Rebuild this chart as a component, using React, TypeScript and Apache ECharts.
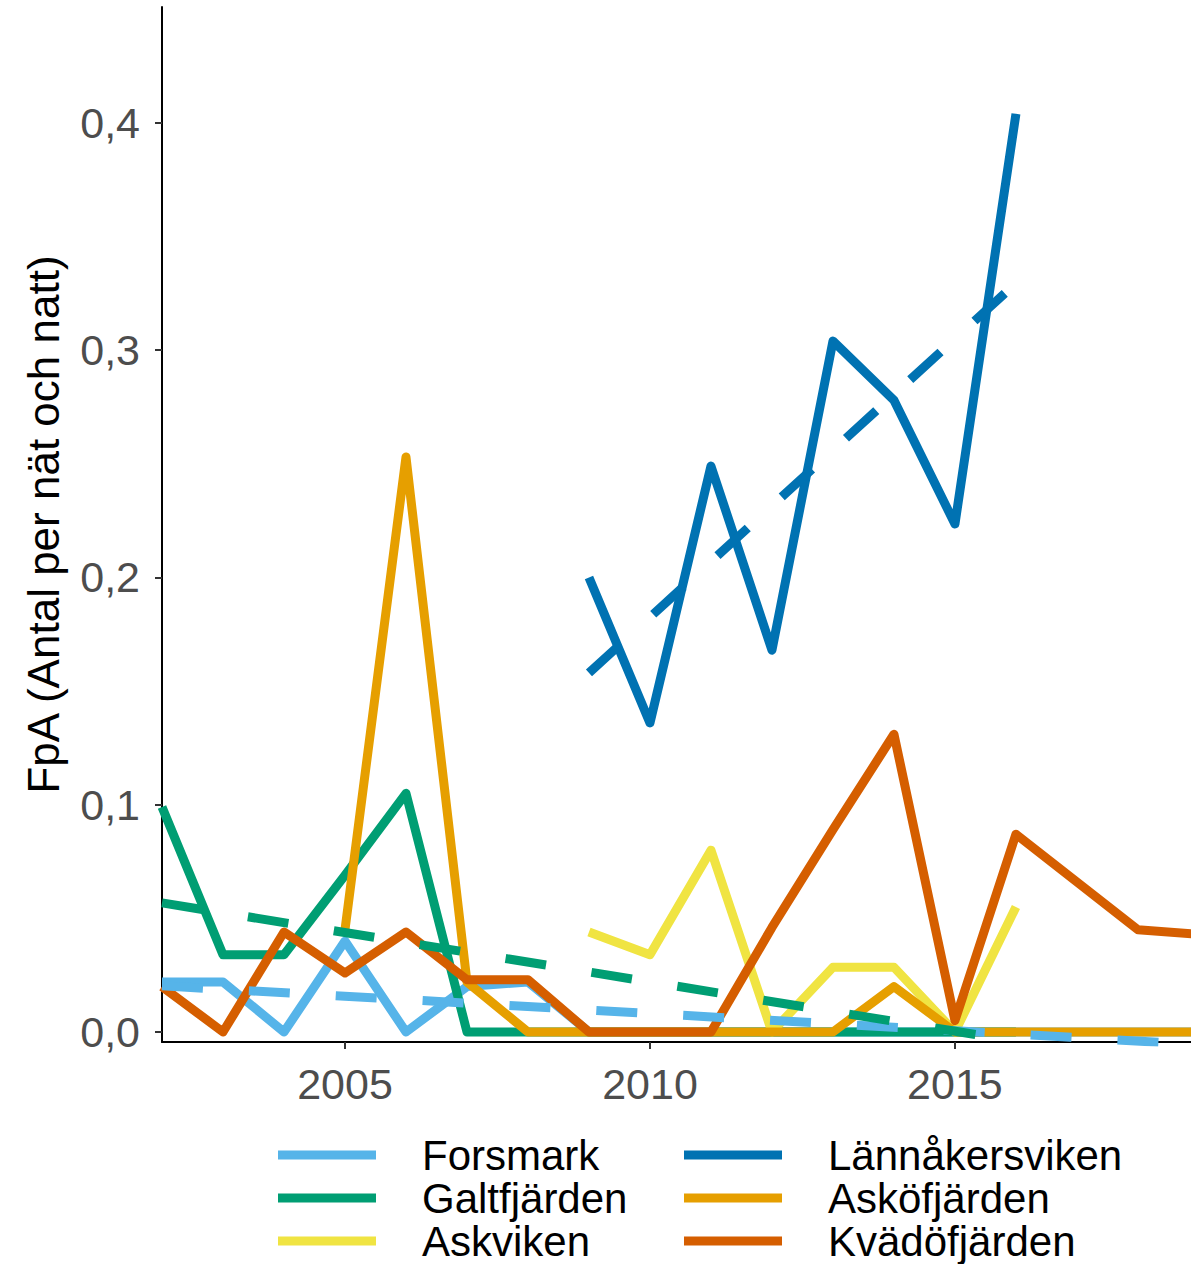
import React, { useEffect, useRef } from "react";
import * as echarts from "echarts";

const years = [2002, 2003, 2004, 2005, 2006, 2007, 2008, 2009, 2010, 2011, 2012, 2013, 2014, 2015, 2016, 2017, 2018, 2019];

const forsmark = [0.022, 0.022, 0, 0.040, 0, 0.020, 0.022, 0, 0, 0, 0, 0, 0, 0, 0, 0, 0, 0];
const galtfjarden = [0.099, 0.034, 0.034, 0.069, 0.105, 0, 0, 0, 0, 0, 0, 0, 0, 0, 0, null, null, null];
const askviken = [null, null, null, null, null, null, null, 0.044, 0.034, 0.080, 0, 0.0285, 0.0285, 0, 0.055, null, null, null];
const lannakersviken = [null, null, null, null, null, null, null, 0.200, 0.136, 0.249, 0.168, 0.304, 0.278, 0.2235, 0.404, null, null, null];
const askofjarden = [null, null, null, 0.045, 0.253, 0.022, 0, 0, 0, 0, 0, 0, 0.020, 0, 0, 0, 0, 0];
const kvadofjarden = [0.020, 0, 0.044, 0.026, 0.044, 0.023, 0.023, 0, 0, 0, 0.046, 0.089, 0.131, 0.005, 0.087, 0.066, 0.045, 0.043];

const forsmarkTrendYears = [2002, 2019];
const forsmarkTrendValues = [0.0203, -0.0055];
const galtTrendYears = [2002, 2016];
const galtTrendValues = [0.0568, -0.004];
const lannTrendYears = [2009, 2016];
const lannTrendValues = [0.158, 0.3295];

const xTicks = [2005, 2010, 2015];
const yTicks = [0, 0.1, 0.2, 0.3, 0.4];

const names = ["Forsmark", "Galtfjärden", "Askviken", "Lännåkersviken", "Asköfjärden", "Kvädöfjärden"];
const colors = ["#56B4E9", "#009E73", "#F0E442", "#0072B2", "#E69F00", "#D55E00"];

const FONT = "'Liberation Sans', Arial, sans-serif";
const LW = 9;

function pairs(xs: number[], vs: (number | null)[]) {
  return xs.map((x, i) => [x, vs[i]]);
}

export default function App() {
  const ref = useRef<HTMLDivElement>(null);
  useEffect(() => {
    if (!ref.current) return;
    const chart = echarts.init(ref.current, undefined, { renderer: "svg" });
    const solidData = [forsmark, galtfjarden, askviken, lannakersviken, askofjarden, kvadofjarden];
    const solidSeries = solidData.map((vals, i) => ({
      name: names[i],
      type: "line",
      data: pairs(years, vals),
      showSymbol: false,
      symbol: "none",
      connectNulls: false,
      clip: true,
      lineStyle: { color: colors[i], width: LW, cap: "butt", join: "round" },
      itemStyle: { color: colors[i] },
      z: 2 + i * 0.01,
    }));
    const trends = [
      { name: "Forsmark trend", c: colors[0], xs: forsmarkTrendYears, vs: forsmarkTrendValues },
      { name: "Galtfjärden trend", c: colors[1], xs: galtTrendYears, vs: galtTrendValues },
      { name: "Lännåkersviken trend", c: colors[3], xs: lannTrendYears, vs: lannTrendValues },
    ];
    const trendSeries = trends.map((t, i) => ({
      name: t.name,
      type: "line",
      data: pairs(t.xs, t.vs),
      showSymbol: false,
      symbol: "none",
      clip: true,
      lineStyle: { color: t.c, width: LW, type: [41, 46], dashOffset: 0, cap: "butt", join: "round" },
      itemStyle: { color: t.c },
      z: 3 + i * 0.01,
    }));
    const legendCommon = {
      orient: "vertical",
      top: 1133.5,
      padding: 0,
      itemGap: 0,
      itemWidth: 98,
      itemHeight: 9,
      icon: "rect",
      selectedMode: false,
      itemStyle: { borderWidth: 0 },
      textStyle: { fontFamily: FONT, fontSize: 42, color: "#000", lineHeight: 43, padding: [0, 0, 0, 41] },
    };
    chart.setOption({
      animation: false,
      backgroundColor: "#fff",
      grid: { left: 162, right: 0, top: 7, bottom: 222, containLabel: false },
      legend: [
        { ...legendCommon, left: 278, data: names.slice(0, 3) },
        { ...legendCommon, left: 684, data: names.slice(3, 6) },
      ],
      xAxis: {
        type: "value",
        min: 2002,
        max: 2018.87,
        axisLine: { show: true, onZero: false, lineStyle: { color: "#000", width: 2 } },
        axisTick: { show: true, length: 7, customValues: xTicks, lineStyle: { color: "#333", width: 2 } },
        axisLabel: {
          customValues: xTicks,
          color: "#4D4D4D",
          fontSize: 43,
          fontFamily: FONT,
          margin: 20,
          formatter: (v: number) => String(v),
        },
        splitLine: { show: false },
      },
      yAxis: {
        type: "value",
        min: -0.0044,
        max: 0.451,
        name: "FpA (Antal per nät och natt)",
        nameLocation: "middle",
        nameGap: 97,
        nameTextStyle: { fontFamily: FONT, fontSize: 44, color: "#000" },
        axisLine: { show: true, onZero: false, lineStyle: { color: "#000", width: 2 } },
        axisTick: { show: true, length: 7, customValues: yTicks, lineStyle: { color: "#333", width: 2 } },
        axisLabel: {
          customValues: yTicks,
          color: "#4D4D4D",
          fontSize: 43,
          fontFamily: FONT,
          margin: 22,
          formatter: (v: number) => v.toFixed(1).replace(".", ","),
        },
        splitLine: { show: false },
      },
      series: [...solidSeries, ...trendSeries],
    });
    return () => chart.dispose();
  }, []);
  return (
    <div
      ref={ref}
      style={{ position: "absolute", left: 0, top: 0, width: 1191, height: 1264 }}
    />
  );
}
